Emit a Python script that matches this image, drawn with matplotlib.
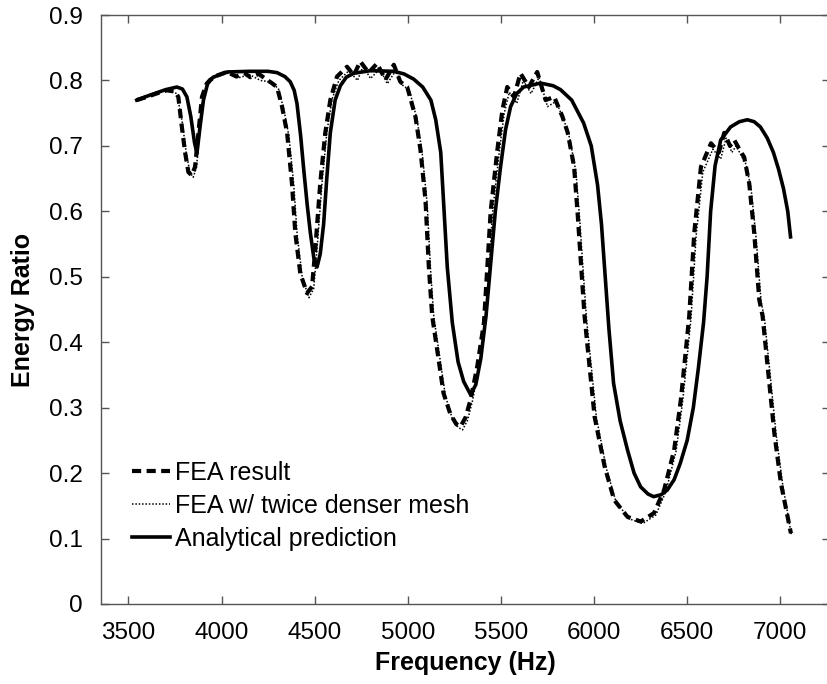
import matplotlib.pyplot as plt

plt.rcParams['font.family'] = ['Liberation Sans', 'DejaVu Sans']

# FEA result (dashed)
fea_freq = [3545, 3600, 3650, 3706, 3750, 3768, 3787, 3805, 3822, 3840, 3858, 3876, 3895, 3920,
            3939, 3980, 4029, 4080, 4120, 4154, 4200, 4244, 4270, 4298, 4325, 4352, 4378, 4396,
            4423, 4459, 4486, 4503, 4530, 4557, 4584, 4620, 4674, 4710, 4745, 4790, 4835, 4880,
            4925, 4960, 4997, 5041, 5068, 5095, 5113, 5131, 5158, 5192, 5229, 5260, 5283, 5310,
            5337, 5373, 5409, 5445, 5481, 5508, 5534, 5570, 5605, 5650, 5695, 5740, 5786, 5830,
            5859, 5893, 5913, 5931, 5949, 5967, 6003, 6057, 6108, 6180, 6251, 6322, 6376, 6430,
            6466, 6493, 6511, 6538, 6574, 6628, 6670, 6699, 6730, 6753, 6790, 6806, 6833, 6860,
            6887, 6905, 6932, 6968, 7003, 7057]
fea_ratio = [0.770, 0.775, 0.780, 0.785, 0.783, 0.775, 0.729, 0.689, 0.660, 0.655, 0.668, 0.720,
             0.775, 0.795, 0.801, 0.808, 0.813, 0.806, 0.812, 0.805, 0.810, 0.801, 0.796, 0.790,
             0.760, 0.720, 0.643, 0.567, 0.505, 0.475, 0.485, 0.541, 0.643, 0.720, 0.770, 0.806,
             0.821, 0.808, 0.829, 0.812, 0.826, 0.801, 0.824, 0.798, 0.790, 0.745, 0.694, 0.617,
             0.515, 0.440, 0.388, 0.322, 0.290, 0.275, 0.271, 0.285, 0.312, 0.363, 0.430, 0.600,
             0.694, 0.755, 0.790, 0.775, 0.811, 0.790, 0.813, 0.770, 0.775, 0.745, 0.720, 0.668,
             0.592, 0.515, 0.440, 0.388, 0.286, 0.210, 0.159, 0.133, 0.126, 0.139, 0.174, 0.235,
             0.312, 0.388, 0.440, 0.567, 0.668, 0.704, 0.690, 0.720, 0.700, 0.709, 0.690, 0.683,
             0.643, 0.567, 0.465, 0.440, 0.363, 0.261, 0.185, 0.108]

# FEA with twice denser mesh (dotted)
dense_freq = [3545, 3620, 3700, 3760, 3790, 3810, 3830, 3848, 3866, 3884, 3902, 3950, 4030, 4090,
              4150, 4210, 4260, 4305, 4335, 4362, 4388, 4406, 4433, 4469, 4495, 4512, 4540, 4566,
              4594, 4630, 4684, 4730, 4760, 4800, 4850, 4890, 4935, 4975, 5008, 5050, 5077, 5104,
              5122, 5140, 5168, 5202, 5238, 5270, 5294, 5320, 5347, 5383, 5419, 5455, 5491, 5518,
              5545, 5585, 5620, 5662, 5705, 5750, 5796, 5840, 5869, 5903, 5923, 5941, 5959, 5977,
              6013, 6067, 6118, 6190, 6262, 6332, 6386, 6440, 6476, 6503, 6521, 6548, 6584, 6638,
              6680, 6709, 6740, 6763, 6800, 6816, 6843, 6870, 6897, 6915, 6942, 6978, 7013, 7060]
dense_ratio = [0.772, 0.778, 0.786, 0.780, 0.735, 0.690, 0.660, 0.652, 0.668, 0.725, 0.780,
               0.803, 0.811, 0.804, 0.809, 0.800, 0.798, 0.788, 0.755, 0.715, 0.640, 0.565,
               0.500, 0.468, 0.482, 0.540, 0.645, 0.722, 0.772, 0.800, 0.815, 0.800, 0.822,
               0.803, 0.818, 0.795, 0.815, 0.792, 0.786, 0.740, 0.690, 0.612, 0.512, 0.438,
               0.384, 0.318, 0.284, 0.270, 0.266, 0.280, 0.310, 0.362, 0.432, 0.598, 0.690,
               0.750, 0.782, 0.765, 0.800, 0.780, 0.805, 0.760, 0.768, 0.738, 0.712, 0.660,
               0.588, 0.512, 0.438, 0.386, 0.284, 0.206, 0.156, 0.130, 0.123, 0.136, 0.172,
               0.233, 0.310, 0.386, 0.438, 0.562, 0.660, 0.695, 0.680, 0.712, 0.690, 0.700,
               0.680, 0.672, 0.635, 0.560, 0.462, 0.436, 0.360, 0.258, 0.182, 0.105]

# Analytical prediction (solid)
ana_freq = [3545, 3600, 3650, 3700, 3760, 3790, 3814, 3835, 3855, 3868, 3885, 3903, 3925, 3955,
            4029, 4150, 4250, 4298, 4340, 4369, 4390, 4405, 4425, 4440, 4460, 4477, 4495, 4513,
            4530, 4548, 4565, 4584, 4610, 4638, 4670, 4710, 4800, 4925, 4980, 5032, 5080, 5124,
            5150, 5177, 5195, 5212, 5239, 5270, 5300, 5337, 5365, 5392, 5420, 5445, 5470, 5498,
            5525, 5552, 5585, 5622, 5713, 5780, 5820, 5880, 5944, 5985, 6019, 6040, 6060, 6080,
            6105, 6140, 6180, 6215, 6250, 6290, 6320, 6360, 6393, 6430, 6463, 6500, 6533, 6560,
            6588, 6607, 6626, 6650, 6680, 6733, 6780, 6823, 6860, 6893, 6930, 6963, 6990, 7017,
            7040, 7055]
ana_ratio = [0.770, 0.776, 0.781, 0.786, 0.790, 0.787, 0.775, 0.745, 0.705, 0.689, 0.730, 0.770,
             0.795, 0.805, 0.813, 0.814, 0.814, 0.812, 0.806, 0.798, 0.785, 0.765, 0.715, 0.668,
             0.610, 0.567, 0.530, 0.515, 0.535, 0.580, 0.650, 0.720, 0.770, 0.792, 0.805, 0.811,
             0.815, 0.814, 0.810, 0.802, 0.790, 0.770, 0.740, 0.690, 0.600, 0.515, 0.430, 0.370,
             0.340, 0.320, 0.335, 0.375, 0.440, 0.520, 0.600, 0.668, 0.725, 0.760, 0.780, 0.790,
             0.796, 0.792, 0.786, 0.770, 0.735, 0.700, 0.640, 0.580, 0.500, 0.420, 0.337, 0.280,
             0.235, 0.200, 0.179, 0.168, 0.164, 0.167, 0.174, 0.190, 0.215, 0.250, 0.300, 0.360,
             0.430, 0.500, 0.600, 0.670, 0.709, 0.729, 0.737, 0.740, 0.737, 0.729, 0.712, 0.690,
             0.665, 0.635, 0.600, 0.561]

xticks = [3500, 4000, 4500, 5000, 5500, 6000, 6500, 7000]
yticks = [0, 0.1, 0.2, 0.3, 0.4, 0.5, 0.6, 0.7, 0.8, 0.9]

fig = plt.figure(figsize=(8.28, 6.84), dpi=100)
ax = fig.add_axes([0.122, 0.117, 0.880, 0.861])

ax.plot(fea_freq, fea_ratio, color='black', lw=3, dashes=(2.2, 1.3), label='FEA result')
ax.plot(dense_freq, dense_ratio, color='black', lw=1.1, dashes=(1, 1.2),
        label='FEA w/ twice denser mesh')
ax.plot(ana_freq, ana_ratio, color='black', lw=2.6, label='Analytical prediction')

ax.set_xlim(3353, 7265)
ax.set_ylim(0, 0.9)
ax.set_xticks(xticks)
ax.set_yticks(yticks)
ax.set_yticklabels(['0' if v == 0 else f'{v:.1f}' for v in yticks])

for s in ax.spines.values():
    s.set_color('#555555')
    s.set_linewidth(1)
ax.tick_params(direction='in', length=6, width=1, color='#555555',
               top=True, right=True, labelsize=17.5)
ax.tick_params(axis='y', pad=13)
ax.tick_params(axis='x', pad=13)

ax.set_xlabel('Frequency (Hz)', fontsize=18, fontweight='bold', labelpad=5)
ax.set_ylabel('Energy Ratio', fontsize=18, fontweight='bold', labelpad=10)

ax.legend(loc='lower left', bbox_to_anchor=(0.018, 0.06), frameon=False, fontsize=18,
          handlelength=1.55, handletextpad=0.2, labelspacing=0.36, borderaxespad=0.3)

fig.savefig('out.png', dpi=100)
